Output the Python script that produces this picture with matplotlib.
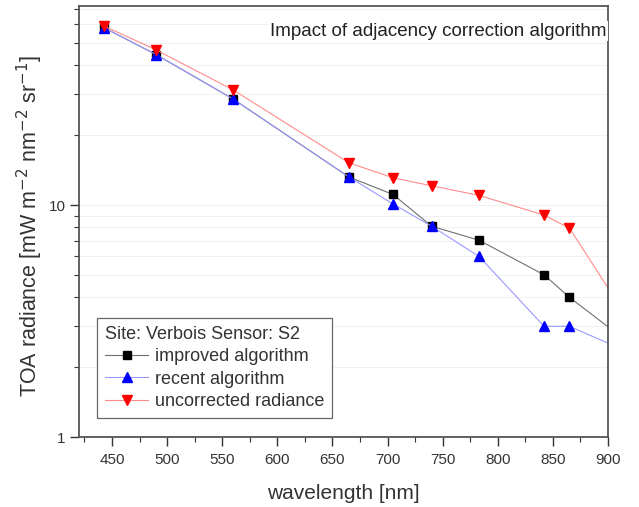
import matplotlib
matplotlib.use("Agg")
import matplotlib.pyplot as plt
from matplotlib.ticker import LogLocator, NullFormatter, FixedLocator, MultipleLocator

plt.rcParams['font.family'] = ['Liberation Sans', 'DejaVu Sans']

# Sentinel-2 band centres [nm]; last band lies outside the plotted range
wavelength = [443, 490, 560, 665, 705, 740, 783, 842, 865, 945]
improved = [58.0, 44.5, 28.6, 13.2, 11.1, 8.1, 7.05, 5.0, 4.0, 2.05]
recent = [58.0, 44.5, 28.6, 13.2, 10.1, 8.1, 6.0, 3.0, 3.0, 2.05]
uncorrected = [59.0, 46.6, 31.3, 15.2, 13.1, 12.1, 11.0, 9.05, 7.95, 2.05]

legend_title = "Site: Verbois Sensor: S2"
plot_title = "Impact of adjacency correction algorithm"

fig = plt.figure(figsize=(6.39, 5.07), dpi=100)
ax = fig.add_axes([0.1236, 0.138, 0.8279, 0.850])

ax.plot(wavelength, improved, color='#707070', lw=0.8, marker='s', ms=5.5,
        mfc='black', mec='black', label='improved algorithm')
ax.plot(wavelength, recent, color='#9999ff', lw=0.8, marker='^', ms=7,
        mfc='#0000ff', mec='#0000ff', label='recent algorithm')
ax.plot(wavelength, uncorrected, color='#ff8c8c', lw=0.8, marker='v', ms=7,
        mfc='#ff0000', mec='#ff0000', label='uncorrected radiance')

ax.set_yscale('log')
ax.set_xlim(420, 900)
ax.set_ylim(1, 72)

ax.xaxis.set_major_locator(FixedLocator(range(450, 901, 50)))
ax.xaxis.set_minor_locator(MultipleLocator(25))
ax.yaxis.set_major_locator(FixedLocator([1, 10]))
ax.yaxis.set_major_formatter(matplotlib.ticker.FixedFormatter(['1', '10']))
ax.yaxis.set_minor_locator(LogLocator(base=10, subs=range(2, 10)))
ax.yaxis.set_minor_formatter(NullFormatter())

ax.yaxis.grid(True, which='both', color='#efefef', lw=0.6)
ax.set_axisbelow(True)

ax.tick_params(axis='both', which='major', direction='out', length=6.5,
               width=1, labelsize=11, color='#333333', labelcolor='#333333')
ax.tick_params(axis='both', which='minor', direction='out', length=3.5,
               width=0.8, color='#333333')
ax.tick_params(axis='x', which='major', pad=5)
ax.tick_params(axis='y', which='major', pad=3)
ax.tick_params(top=False, right=False, which='both')

for sp in ax.spines.values():
    sp.set_color('#555555')
    sp.set_linewidth(1.3)

ax.set_xlabel('wavelength [nm]', fontsize=15, color='#333333', labelpad=12)
ax.set_ylabel(r'TOA radiance [mW m$^{-2}$ nm$^{-2}$ sr$^{-1}$]',
              fontsize=15.5, color='#333333')
ax.yaxis.set_label_coords(-0.064, 0.49)

ax.text(0.998, 0.942, plot_title, transform=ax.transAxes, ha='right',
        va='center', fontsize=13.5, color='#222222', clip_on=True,
        bbox=dict(facecolor='white', edgecolor='none', pad=1))

leg = ax.legend(title=legend_title, loc='lower left',
                bbox_to_anchor=(0.034, 0.044), borderaxespad=0,
                fontsize=13, title_fontsize=13, fancybox=False,
                edgecolor='#666666', framealpha=1, handlelength=2.4,
                handletextpad=0.35, labelspacing=0.3, borderpad=0.45)
leg._legend_box.align = 'left'
leg.get_frame().set_linewidth(0.9)
for t in leg.get_texts():
    t.set_color('#333333')
leg.get_title().set_color('#333333')

fig.savefig('out.png', dpi=100)
